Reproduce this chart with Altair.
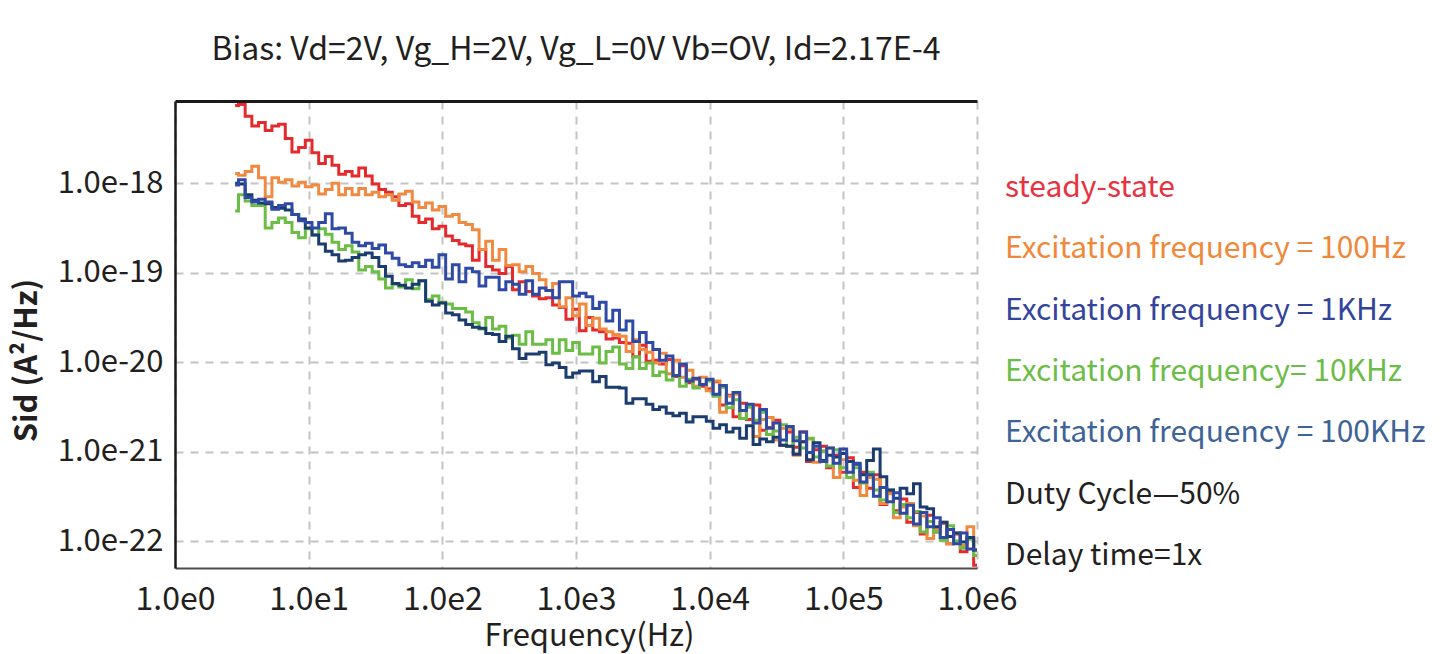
import json
import math
import altair as alt
import pandas as pd

FONT = "Noto Sans CJK SC"
INK = "#231f20"

# Frequency grid, in decades (log10 Hz)
LOG_F = [
    0.45, 0.50, 0.55, 0.60, 0.65, 0.70, 0.75, 0.80, 0.85, 0.90, 0.95,
    1.00, 1.05, 1.10, 1.15, 1.20, 1.25, 1.30, 1.35, 1.40, 1.45, 1.50, 1.55, 1.60, 1.65, 1.70, 1.75, 1.80, 1.85, 1.90, 1.95,
    2.00, 2.05, 2.10, 2.15, 2.20, 2.25, 2.30, 2.35, 2.40, 2.45, 2.50, 2.55, 2.60, 2.65, 2.70, 2.75, 2.80, 2.85, 2.90, 2.95,
    3.00, 3.05, 3.10, 3.15, 3.20, 3.25, 3.30, 3.35, 3.40, 3.45, 3.50, 3.55, 3.60, 3.65, 3.70, 3.75, 3.80, 3.85, 3.90, 3.95,
    4.00, 4.05, 4.10, 4.15, 4.20, 4.25, 4.30, 4.35, 4.40, 4.45, 4.50, 4.55, 4.60, 4.65, 4.70, 4.75, 4.80, 4.85, 4.90, 4.95,
    5.00, 5.05, 5.10, 5.15, 5.20, 5.25, 5.30, 5.35, 5.40, 5.45, 5.50, 5.55, 5.60, 5.65, 5.70, 5.75, 5.80, 5.85, 5.90, 5.95,
    6.00,
]

# Sid, in decades (log10 A^2/Hz)
LOG_SID_STEADY = [
    -17.13, -17.12, -17.25, -17.36, -17.32, -17.41, -17.36, -17.34, -17.50, -17.65, -17.60, -17.52,
    -17.66, -17.78, -17.70, -17.80, -17.90, -17.87, -17.92, -17.83, -17.92, -18.01, -18.07, -18.10,
    -18.15, -18.25, -18.23, -18.37, -18.44, -18.40, -18.51, -18.48, -18.59, -18.64, -18.68, -18.70,
    -18.86, -18.74, -18.93, -18.97, -19.01, -18.93, -19.19, -19.10, -19.21, -19.26, -19.29, -19.28,
    -19.36, -19.39, -19.52, -19.41, -19.65, -19.50, -19.64, -19.66, -19.74, -19.73, -19.78, -19.79,
    -19.94, -19.81, -19.99, -19.98, -20.02, -19.97, -20.16, -20.04, -20.23, -20.19, -20.27,
    -20.30, -20.22, -20.48, -20.37, -20.61, -20.46, -20.64, -20.48, -20.76, -20.73, -20.65, -20.93,
    -20.78, -20.95, -20.78, -21.11, -20.98, -20.94, -21.18, -21.04, -21.23, -21.07, -21.40, -21.23,
    -21.41, -21.26, -21.59, -21.45, -21.66, -21.53, -21.79, -21.68, -21.92, -21.71, -21.90, -21.80,
    -22.03, -21.92, -22.12, -21.97, -22.27,
]
LOG_SID_100HZ = [
    -17.89, -17.91, -17.87, -17.81, -17.94, -18.15, -17.94, -17.99, -17.96, -18.03, -17.99, -18.04,
    -18.02, -18.12, -18.07, -18.00, -18.13, -18.06, -18.13, -18.06, -18.13, -18.10, -18.15, -18.13,
    -18.19, -18.12, -18.09, -18.21, -18.27, -18.22, -18.30, -18.26, -18.37, -18.35, -18.44, -18.46,
    -18.52, -18.74, -18.65, -18.86, -18.74, -18.92, -18.91, -18.99, -18.93, -19.01, -19.08, -19.20,
    -19.12, -19.38, -19.28, -19.48, -19.35, -19.59, -19.51, -19.63, -19.66, -19.69, -19.71, -19.88,
    -19.75, -19.86, -19.89, -20.01, -19.90, -20.13, -19.98, -20.17, -20.09, -20.27, -20.17,
    -20.32, -20.21, -20.56, -20.38, -20.36, -20.63, -20.50, -20.83, -20.64, -20.62, -20.87, -20.74,
    -20.75, -21.04, -20.89, -20.86, -21.12, -20.99, -20.96, -21.29, -21.09, -21.11, -21.32, -21.49,
    -21.29, -21.31, -21.58, -21.47, -21.74, -21.62, -21.58, -21.83, -21.72, -21.97, -21.87, -21.79,
    -22.03, -21.91, -22.05, -21.84, -22.16,
]
LOG_SID_1KHZ = [
    -18.02, -17.96, -18.16, -18.21, -18.18, -18.21, -18.29, -18.25, -18.23, -18.35, -18.42, -18.44,
    -18.50, -18.44, -18.34, -18.51, -18.50, -18.56, -18.66, -18.70, -18.67, -18.73, -18.69, -18.78,
    -18.84, -18.91, -18.93, -18.89, -18.93, -18.86, -18.94,
    -18.80, -19.07, -18.91, -19.10, -18.95, -18.99, -19.15, -19.05, -19.05, -19.19, -19.10, -19.13,
    -19.24, -19.09, -19.24, -19.17, -19.20, -19.28, -19.10, -19.10, -19.26, -19.23, -19.27, -19.40,
    -19.33, -19.54, -19.42, -19.64, -19.54, -19.77, -19.67, -19.78, -19.86, -19.98, -19.93, -20.15,
    -20.02, -20.21, -20.18, -20.25,
    -20.19, -20.36, -20.26, -20.46, -20.34, -20.54, -20.47, -20.68, -20.53, -20.74, -20.68, -20.87,
    -20.72, -20.88, -20.78, -21.01, -20.94, -21.11, -20.96, -21.13, -20.97, -21.23, -21.13, -21.34,
    -21.26, -21.50, -21.40, -21.56, -21.46, -21.69, -21.60, -21.81, -21.68, -21.84, -21.74, -21.96,
    -21.87, -22.03, -21.91, -22.09, -22.10,
]
LOG_SID_10KHZ = [
    -18.31, -18.13, -18.20, -18.25, -18.25, -18.50, -18.44, -18.39, -18.44, -18.55, -18.61, -18.51,
    -18.58, -18.51, -18.57, -18.66, -18.74, -18.70, -18.77, -18.97, -18.93, -18.99, -19.07, -19.17,
    -19.13, -19.16, -19.08, -19.18, -19.09,
    -19.30, -19.26, -19.33, -19.35, -19.40, -19.40, -19.44, -19.56, -19.63, -19.50, -19.63, -19.60,
    -19.73, -19.70, -19.80, -19.66, -19.80, -19.80, -19.75, -19.90, -19.75, -19.87, -19.78, -19.91,
    -19.91, -19.83, -20.01, -19.88, -19.83, -20.02, -20.07, -19.94, -20.07, -20.01, -20.15, -20.11,
    -20.20, -20.15, -20.27, -20.19, -20.29, -20.25,
    -20.21, -20.38, -20.28, -20.51, -20.42, -20.63, -20.50, -20.65, -20.56, -20.81, -20.77, -20.70,
    -20.94, -20.84, -20.96, -20.85, -21.06, -21.00, -21.16, -20.98, -21.18, -21.29, -21.18, -21.35,
    -21.23, -21.43, -21.54, -21.43, -21.68, -21.59, -21.74, -21.67, -21.90, -21.78, -21.90, -21.99,
    -21.83, -22.00, -22.08, -21.98, -22.16,
]
LOG_SID_100KHZ = [
    -18.00, -18.01, -18.13, -18.19, -18.22, -18.23, -18.27, -18.28, -18.30, -18.35, -18.40, -18.50,
    -18.58, -18.68, -18.76, -18.80, -18.87, -18.86, -18.83, -18.80, -18.78, -18.83, -18.93, -19.04,
    -19.12, -19.14, -19.17, -19.13, -19.09, -19.32, -19.36, -19.34, -19.45, -19.47, -19.53, -19.58,
    -19.61, -19.62, -19.68, -19.69,
    -19.77, -19.71, -19.85, -19.96, -19.91, -19.91, -19.89, -20.03, -20.01, -20.06, -20.17, -20.12,
    -20.10, -20.10, -20.22, -20.16, -20.28, -20.28, -20.29, -20.46, -20.41, -20.41, -20.47, -20.53,
    -20.50, -20.57, -20.60, -20.57, -20.67, -20.61, -20.61,
    -20.66, -20.74, -20.70, -20.78, -20.74, -20.85, -20.71, -20.92, -20.86, -20.89, -20.84, -20.93,
    -20.94, -21.03, -20.89, -21.09, -20.90, -21.10, -21.04, -21.06, -21.02, -21.11, -21.14, -21.26,
    -21.10, -20.97, -21.28, -21.43, -21.52, -21.41, -21.47, -21.36, -21.62, -21.64, -21.84, -21.79,
    -21.95, -21.91, -22.01, -21.96, -22.10,
]

# draw order: first is drawn at the bottom
SERIES_NAMES = ["steady-state", "100Hz", "10KHz", "100KHz", "1KHz"]
SERIES_VALUES = [LOG_SID_STEADY, LOG_SID_100HZ, LOG_SID_10KHZ, LOG_SID_100KHZ, LOG_SID_1KHZ]
SERIES_COLORS = ["#e52a2d", "#f08a40", "#6bbd45", "#1b3c6e", "#2f4aa5"]

X_DOMAIN = [1.0, 1.0e6]
Y_DOMAIN = [5.0e-23, 8.3e-18]
XTICKS = [1.0, 1.0e1, 1.0e2, 1.0e3, 1.0e4, 1.0e5, 1.0e6]
XTICK_LABELS = ["1.0e0", "1.0e1", "1.0e2", "1.0e3", "1.0e4", "1.0e5", "1.0e6"]
YTICKS = [1.0e-22, 1.0e-21, 1.0e-20, 1.0e-19, 1.0e-18]
YTICK_LABELS = ["1.0e-22", "1.0e-21", "1.0e-20", "1.0e-19", "1.0e-18"]

TITLE = "Bias: Vd=2V, Vg_H=2V, Vg_L=0V Vb=OV, Id=2.17E-4"
X_TITLE = "Frequency(Hz)"
Y_TITLE = "Sid (A\u00b2/Hz)"

LEGEND_LABELS = [
    "steady-state",
    "Excitation frequency = 100Hz",
    "Excitation frequency = 1KHz",
    "Excitation frequency= 10KHz",
    "Excitation frequency = 100KHz",
    "Duty Cycle\u201450%",
    "Delay time=1x",
]
LEGEND_COLORS = ["#e8323f", "#f0883a", "#33449c", "#6cbc47", "#3e6396", INK, INK]

for name, vals in zip(SERIES_NAMES, SERIES_VALUES):
    if len(vals) != len(LOG_F):
        raise ValueError(f"{name}: {len(vals)} values vs {len(LOG_F)} frequencies")

x_scale = alt.Scale(type="log", domain=X_DOMAIN, nice=False)
y_scale = alt.Scale(type="log", domain=Y_DOMAIN, nice=False)

x_first = int(round(math.log10(XTICKS[0])))
y_first = int(round(math.log10(YTICKS[0])))
x_label_expr = f"{json.dumps(XTICK_LABELS)}[round(log(datum.value)/LN10) - ({x_first})]"
y_label_expr = f"{json.dumps(YTICK_LABELS)}[round(log(datum.value)/LN10) - ({y_first})]"

GRID = dict(grid=True, gridColor="#c4c4c4", gridDash=[8, 7], gridWidth=2)

bottom_axis = alt.Axis(
    orient="bottom", values=XTICKS, labelExpr=x_label_expr, ticks=False,
    domainColor="#4d4d4d", domainWidth=2,
    labelFont=FONT, labelFontSize=32, labelColor=INK, labelPadding=16,
    labelFlush=False, labelOverlap=False,
    title=X_TITLE, titleFont=FONT, titleFontSize=31, titleFontWeight="normal",
    titleColor=INK, titleX=414, titleY=77, titleAlign="center", titleBaseline="alphabetic",
    **GRID,
)
top_axis = alt.Axis(
    orient="top", values=XTICKS, labels=False, ticks=False, grid=False,
    domainColor="#1a1a1a", domainWidth=3, title="",
)
left_axis = alt.Axis(
    orient="left", values=YTICKS, labelExpr=y_label_expr, ticks=False,
    domainColor="#1a1a1a", domainWidth=2.5,
    labelFont=FONT, labelFontSize=31, labelColor=INK, labelPadding=12,
    labelOverlap=False,
    title=Y_TITLE, titleFont=FONT, titleFontSize=31, titleFontWeight="bold",
    titleColor=INK, titleAngle=270, titleX=-139, titleY=259,
    titleAlign="center", titleBaseline="alphabetic",
    **GRID,
)

layers = []
for i, (name, vals, color) in enumerate(zip(SERIES_NAMES, SERIES_VALUES, SERIES_COLORS)):
    df = pd.DataFrame({
        "f": [10.0 ** v for v in LOG_F],
        "sid": [10.0 ** v for v in vals],
        "series": name,
    })
    if i == 0:
        xa, ya = bottom_axis, left_axis
    elif i == 1:
        xa, ya = top_axis, None
    else:
        xa, ya = None, None
    x_enc = alt.X("f:Q", scale=x_scale, axis=xa)
    y_enc = alt.Y("sid:Q", scale=y_scale, axis=ya)
    layers.append(
        alt.Chart(df)
        .mark_line(interpolate="step", strokeWidth=3, color=color, clip=True)
        .encode(x=x_enc, y=y_enc)
    )

legend_df = pd.DataFrame({"label": LEGEND_LABELS, "row": list(range(len(LEGEND_LABELS)))})
legend_text = (
    alt.Chart(legend_df)
    .mark_text(align="left", baseline="alphabetic", font=FONT, fontSize=30)
    .encode(
        x=alt.value(830),
        y=alt.Y("row:O", axis=None, scale=alt.Scale(type="point", range=[96, 464], padding=0)),
        color=alt.Color("label:N", scale=alt.Scale(domain=LEGEND_LABELS, range=LEGEND_COLORS), legend=None),
        text="label:N",
    )
)

chart = (
    alt.layer(*layers, legend_text)
    .resolve_scale(y="independent")
    .resolve_axis(x="independent", y="independent")
    .properties(
        width=802,
        height=467,
        title=alt.TitleParams(
            text=TITLE, font=FONT, fontSize=32, fontWeight="normal", color=INK,
            anchor="middle", frame="group", baseline="alphabetic", offset=9,
        ),
        autosize=alt.AutoSizeParams(type="none"),
        padding={"left": 167, "top": 93, "right": 450, "bottom": 86},
    )
    .configure_view(stroke="transparent")
)

chart.save("out.html", embed_options={"renderer": "svg", "actions": False})
